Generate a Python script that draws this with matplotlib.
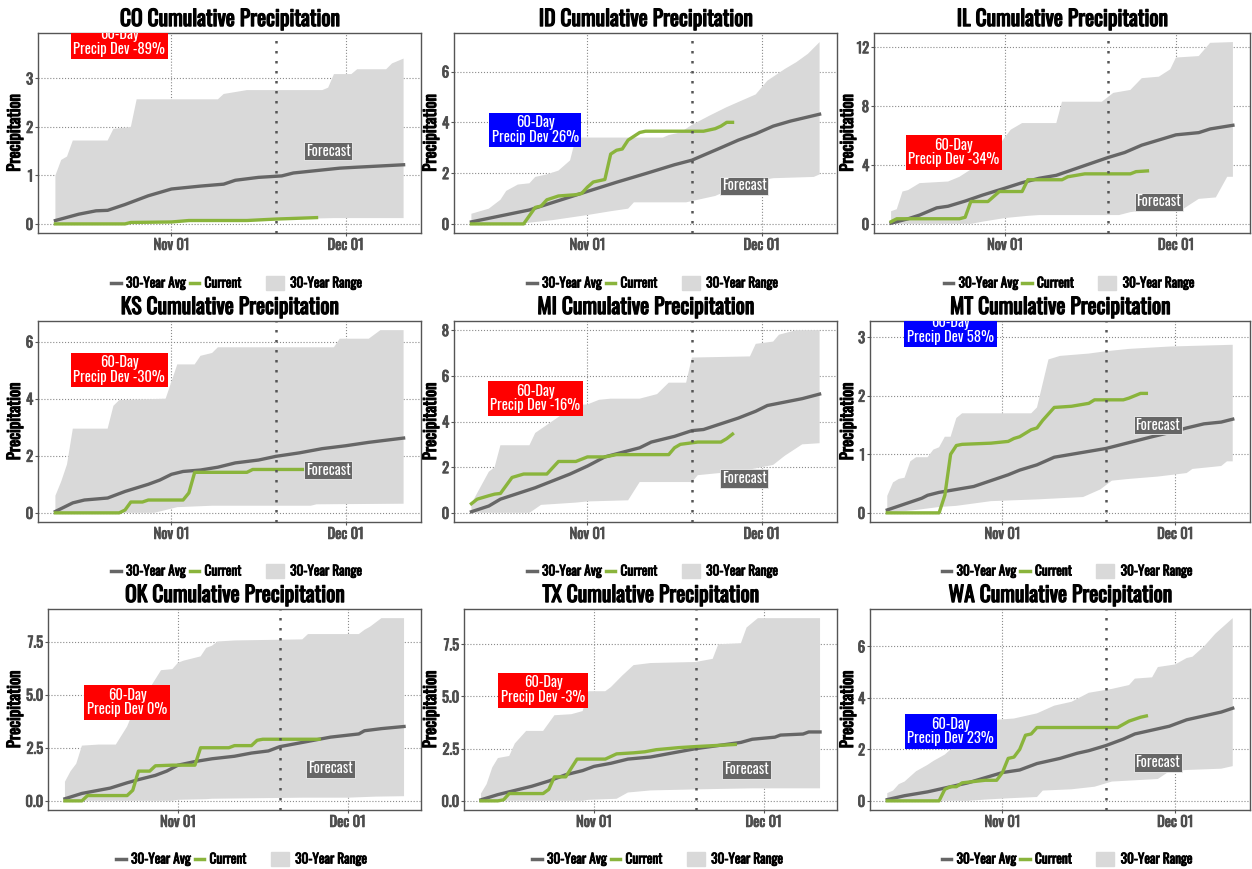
import numpy as np
import pandas as pd
import matplotlib
matplotlib.use("Agg")
import matplotlib.pyplot as plt
import matplotlib.dates as mdates
import matplotlib.patheffects as pe
from matplotlib import font_manager
from matplotlib.lines import Line2D
from matplotlib.patches import Patch

# pick a condensed face if one is around
avail = {f.name for f in font_manager.fontManager.ttflist}
family = "DejaVu Sans"
for cand in ["Oswald", "Roboto Condensed", "Open Sans Condensed", "Noto Sans Condensed",
             "Liberation Sans Narrow", "DejaVu Sans Condensed"]:
    if cand in avail:
        family = cand
        break
plt.rcParams["font.family"] = [family, "DejaVu Sans"]

states = ["CO", "ID", "IL", "KS", "MI", "MT", "OK", "TX", "WA"]
dev_pct = [-89, 26, -34, -30, -16, 58, 0, -3, 23]
dev_label_y = [3.75, 3.7, 4.87, 5.0, 5.0, 3.12, 4.62, 5.3, 2.69]
yticks = {
    "CO": [0, 1, 2, 3], "ID": [0, 2, 4, 6], "IL": [0, 4, 8, 12],
    "KS": [0, 2, 4, 6], "MI": [0, 2, 4, 6, 8], "MT": [0, 1, 2, 3],
    "OK": [0.0, 2.5, 5.0, 7.5], "TX": [0.0, 2.5, 5.0, 7.5], "WA": [0, 2, 4, 6],
}

start_date = "2023-10-12"   # day 0 of the 60-day window
forecast_day = 38
forecast_label_day = 47
forecast_label_y = 1.5

# (day, inches) pairs
avg = {
    "CO": [(0, 0.07), (4, 0.2), (7, 0.27), (9, 0.28), (12, 0.4), (16, 0.58), (20, 0.72), (25, 0.78), (29, 0.82),
           (31, 0.9), (35, 0.96), (39, 0.99), (41, 1.05), (45, 1.1), (49, 1.15), (52, 1.17), (60, 1.22)],
    "ID": [(0, 0.08), (10, 0.55), (20, 1.28), (25, 1.64), (30, 1.98), (35, 2.33), (38, 2.51), (43, 3.0),
           (46, 3.3), (49, 3.55), (52, 3.85), (55, 4.05), (60, 4.32)],
    "IL": [(0, 0.05), (3, 0.35), (5, 0.6), (8, 1.09), (10, 1.2), (13, 1.55), (16, 1.95), (20, 2.43), (23, 2.8),
           (26, 3.1), (29, 3.3), (32, 3.7), (35, 4.1), (38, 4.5), (41, 4.85), (44, 5.35), (47, 5.7), (50, 6.05),
           (54, 6.2), (56, 6.45), (60, 6.7)],
    "KS": [(0, 0.05), (3, 0.35), (5, 0.45), (9, 0.52), (12, 0.75), (16, 1.0), (18, 1.15), (20, 1.35), (22, 1.45),
           (25, 1.5), (28, 1.6), (31, 1.75), (35, 1.85), (38, 1.98), (42, 2.1), (46, 2.25), (50, 2.35), (54, 2.47),
           (60, 2.62)],
    "MI": [(0, 0.05), (3, 0.3), (5, 0.6), (8, 0.85), (11, 1.1), (14, 1.4), (17, 1.7), (20, 2.05), (23, 2.45),
           (26, 2.65), (29, 2.85), (31, 3.1), (35, 3.35), (38, 3.6), (40, 3.65), (43, 3.9), (46, 4.15), (49, 4.45),
           (51, 4.7), (54, 4.85), (57, 5.0), (60, 5.2)],
    "MT": [(0, 0.05), (3, 0.15), (6, 0.25), (7, 0.3), (9, 0.35), (12, 0.4), (15, 0.45), (18, 0.55), (21, 0.65),
           (23, 0.73), (26, 0.82), (29, 0.95), (32, 1.0), (35, 1.05), (38, 1.1), (40, 1.15), (44, 1.25), (46, 1.3),
           (49, 1.37), (52, 1.45), (55, 1.52), (58, 1.55), (60, 1.6)],
    "OK": [(0, 0.1), (3, 0.35), (6, 0.5), (8, 0.6), (11, 0.85), (13, 1.0), (16, 1.2), (18, 1.4), (20, 1.68),
           (23, 1.85), (26, 1.98), (30, 2.1), (33, 2.25), (36, 2.35), (38, 2.55), (42, 2.75), (45, 2.9), (47, 3.0),
           (52, 3.15), (53, 3.3), (56, 3.4), (60, 3.5)],
    "TX": [(0, 0.05), (3, 0.3), (6, 0.5), (9, 0.7), (12, 0.95), (15, 1.25), (18, 1.45), (20, 1.65), (23, 1.8),
           (26, 2.0), (30, 2.1), (34, 2.3), (38, 2.5), (42, 2.65), (46, 2.8), (48, 2.95), (52, 3.05), (53, 3.15),
           (57, 3.2), (58, 3.3), (60, 3.3)],
    "WA": [(0, 0.05), (3, 0.2), (7, 0.35), (10, 0.5), (14, 0.7), (17, 0.9), (20, 1.1), (23, 1.2), (26, 1.45),
           (30, 1.65), (33, 1.85), (35, 1.95), (38, 2.15), (41, 2.4), (43, 2.6), (46, 2.75), (49, 2.9), (52, 3.15),
           (55, 3.3), (58, 3.45), (60, 3.6)],
}

current = {
    "CO": [(0, 0), (12, 0), (13, 0.03), (20, 0.04), (23, 0.07), (33, 0.07), (38, 0.1), (45, 0.13)],
    "ID": [(0, 0), (9, 0), (11, 0.65), (12, 0.7), (13, 0.95), (15, 1.1), (18, 1.15), (19, 1.2), (20, 1.45),
           (21, 1.65), (23, 1.75), (24, 2.75), (25, 2.9), (26, 2.95), (27, 3.3), (29, 3.6), (30, 3.65), (40, 3.65),
           (42, 3.75), (43, 3.85), (44, 4.0), (45, 4.0)],
    "IL": [(0, 0.15), (1, 0.35), (12, 0.35), (13, 0.45), (14, 1.52), (17, 1.52), (19, 2.2), (23, 2.2), (24, 3.0),
           (30, 3.0), (31, 3.2), (34, 3.4), (42, 3.4), (43, 3.55), (45, 3.6)],
    "KS": [(0, 0), (11, 0), (12, 0.1), (13, 0.38), (15, 0.38), (16, 0.45), (22, 0.45), (23, 0.7), (24, 1.42),
           (33, 1.42), (34, 1.52), (45, 1.52)],
    "MI": [(0, 0.4), (1, 0.6), (3, 0.75), (4, 0.82), (5, 0.85), (7, 1.55), (9, 1.7), (13, 1.7), (15, 2.25),
           (18, 2.25), (20, 2.45), (23, 2.45), (25, 2.55), (34, 2.55), (35, 2.85), (36, 3.0), (39, 3.1), (43, 3.1),
           (44, 3.25), (45, 3.45)],
    "MT": [(0, 0), (9, 0), (10, 0.3), (11, 1.0), (12, 1.15), (13, 1.17), (18, 1.19), (21, 1.22), (22, 1.27),
           (23, 1.3), (25, 1.42), (26, 1.45), (27, 1.58), (29, 1.8), (32, 1.82), (35, 1.87), (36, 1.93), (41, 1.93),
           (42, 1.96), (44, 2.04), (45, 2.04)],
    "OK": [(0, 0), (3, 0), (4, 0.25), (11, 0.25), (12, 0.5), (13, 1.4), (15, 1.4), (16, 1.65), (19, 1.68),
           (23, 1.68), (24, 2.5), (29, 2.5), (30, 2.6), (33, 2.6), (34, 2.85), (35, 2.9), (45, 2.9)],
    "TX": [(0, 0), (3, 0), (4, 0.05), (5, 0.35), (11, 0.35), (12, 0.55), (13, 1.15), (15, 1.15), (17, 2.0),
           (22, 2.0), (24, 2.25), (27, 2.3), (29, 2.35), (31, 2.45), (33, 2.5), (35, 2.55), (38, 2.6), (45, 2.7)],
    "WA": [(0, 0), (9, 0), (10, 0.45), (11, 0.55), (12, 0.55), (13, 0.7), (15, 0.75), (17, 0.8), (19, 0.8),
           (20, 1.1), (21, 1.65), (22, 1.7), (23, 2.0), (24, 2.55), (25, 2.6), (26, 2.85), (40, 2.85), (42, 3.1),
           (44, 3.25), (45, 3.3)],
}

range_hi = {
    "CO": [(0, 1.0), (1, 1.32), (2, 1.39), (3, 1.72), (9, 1.72), (10, 1.96), (13, 2.0), (14, 2.57), (28, 2.57),
           (29, 2.68), (31, 2.72), (33, 2.76), (46, 2.76), (47, 2.81), (48, 3.09), (51, 3.09), (52, 3.19),
           (57, 3.19), (58, 3.31), (60, 3.41)],
    "ID": [(0, 0.4), (3, 0.6), (5, 0.95), (6, 1.3), (8, 1.55), (10, 1.6), (11, 1.85), (13, 1.95), (15, 2.1),
           (17, 2.5), (18, 3.4), (33, 3.4), (34, 3.5), (36, 3.6), (38, 3.9), (41, 4.26), (44, 4.6), (46, 4.8),
           (49, 5.1), (51, 5.64), (54, 6.1), (56, 6.37), (58, 6.7), (60, 7.16)],
    "IL": [(0, 0.86), (1, 1.0), (2, 2.2), (3, 2.3), (5, 2.77), (10, 2.88), (12, 3.2), (14, 3.7), (17, 4.35),
           (18, 4.8), (20, 5.9), (21, 6.4), (23, 6.85), (29, 6.85), (30, 8.3), (37, 8.3), (39, 8.9), (42, 9.1),
           (44, 9.9), (47, 10.0), (49, 10.5), (50, 11.3), (54, 11.4), (56, 12.3), (60, 12.35)],
    "KS": [(0, 0.6), (1, 1.1), (2, 1.7), (3, 2.95), (9, 2.95), (10, 3.75), (11, 3.95), (19, 4.0), (21, 5.2),
           (24, 5.2), (25, 5.5), (27, 5.6), (28, 5.8), (48, 5.8), (49, 6.1), (54, 6.1), (56, 6.4), (60, 6.4)],
    "MI": [(0, 0.4), (3, 1.8), (4, 2.0), (5, 2.96), (10, 2.96), (11, 3.5), (18, 4.72), (20, 4.75), (22, 4.95),
           (24, 5.0), (29, 5.0), (32, 5.2), (34, 5.7), (37, 5.7), (38, 6.8), (48, 6.85), (49, 7.4), (52, 7.5),
           (53, 7.8), (56, 8.0), (60, 8.0)],
    "MT": [(0, 0.29), (1, 0.52), (2, 0.58), (3, 0.6), (4, 0.88), (5, 0.95), (7, 0.95), (8, 1.08), (9, 1.12),
           (10, 1.3), (11, 1.3), (12, 1.62), (13, 1.7), (25, 1.7), (26, 1.8), (28, 2.62), (30, 2.68), (35, 2.72),
           (38, 2.76), (42, 2.8), (49, 2.84), (60, 2.87)],
    "OK": [(0, 0.9), (1, 1.4), (2, 1.75), (3, 2.6), (6, 2.65), (9, 2.65), (11, 3.5), (13, 4.8), (15, 5.3),
           (17, 6.15), (19, 6.2), (20, 6.5), (21, 6.6), (24, 6.8), (25, 7.2), (26, 7.3), (27, 7.5), (30, 7.55),
           (42, 7.6), (43, 7.85), (52, 7.85), (53, 8.05), (54, 8.2), (56, 8.6), (60, 8.6)],
    "TX": [(0, 0.35), (1, 0.8), (2, 1.6), (3, 2.05), (5, 2.15), (6, 2.75), (8, 3.35), (11, 3.35), (13, 4.1),
           (16, 4.15), (18, 4.3), (19, 5.25), (22, 5.25), (23, 5.45), (25, 6.0), (27, 6.5), (30, 6.6), (38, 6.65),
           (41, 6.8), (42, 7.5), (46, 7.55), (47, 8.3), (49, 8.75), (60, 8.75)],
    "WA": [(0, 0.3), (1, 0.4), (2, 0.65), (3, 0.75), (4, 0.95), (5, 1.15), (7, 1.4), (8, 1.55), (10, 1.8),
           (11, 2.0), (13, 2.15), (15, 2.5), (17, 2.9), (19, 3.15), (22, 3.2), (24, 3.3), (26, 3.4), (29, 3.7),
           (32, 3.85), (35, 4.2), (39, 4.35), (42, 4.5), (43, 4.75), (46, 4.8), (47, 5.2), (50, 5.3), (52, 5.55),
           (53, 5.6), (55, 6.0), (57, 6.5), (60, 7.1)],
}

range_lo = {
    "CO": [(0, 0), (20, 0.03), (30, 0.06), (40, 0.1), (48, 0.12), (60, 0.12)],
    "ID": [(0, 0), (8, 0), (14, 0.15), (20, 0.35), (24, 0.5), (27, 0.6), (28, 0.85), (37, 0.85), (38, 0.9),
           (40, 1.0), (42, 1.1), (47, 1.6), (52, 1.8), (59, 1.85), (60, 1.95)],
    "IL": [(0, 0), (14, 0), (16, 0.15), (20, 0.4), (24, 0.55), (26, 0.6), (40, 0.6), (42, 0.8), (44, 0.9),
           (51, 0.95), (54, 1.7), (57, 1.8), (59, 3.2), (60, 3.2)],
    "KS": [(0, 0), (17, 0), (18, 0.05), (21, 0.2), (27, 0.25), (44, 0.25), (45, 0.3), (60, 0.32)],
    "MI": [(0, 0), (10, 0), (12, 0.35), (18, 0.45), (20, 0.5), (27, 0.55), (29, 1.35), (38, 1.35), (39, 1.65),
           (43, 1.75), (48, 1.9), (52, 2.1), (54, 2.5), (57, 3.0), (60, 3.05)],
    "MT": [(0, 0), (5, 0.05), (9, 0.1), (12, 0.12), (18, 0.2), (26, 0.23), (34, 0.27), (37, 0.4), (39, 0.55),
           (42, 0.58), (47, 0.62), (52, 0.68), (53, 0.75), (58, 0.8), (59, 0.88), (60, 0.88)],
    "OK": [(0, 0), (19, 0), (20, 0.05), (25, 0.08), (26, 0.1), (42, 0.15), (50, 0.15), (55, 0.2), (60, 0.22)],
    "TX": [(0, 0), (18, 0), (19, 0.05), (24, 0.1), (26, 0.4), (30, 0.5), (38, 0.55), (48, 0.6), (60, 0.6)],
    "WA": [(0, 0), (14, 0), (17, 0.05), (21, 0.1), (26, 0.15), (27, 0.4), (32, 0.45), (36, 0.55), (39, 0.75),
           (47, 0.85), (49, 1.15), (52, 1.2), (58, 1.25), (60, 1.35)],
}

AVG_COL = "#666666"
CUR_COL = "#8AB43C"
RANGE_COL = "#D9D9D9"

W, H = 1252, 869
fig = plt.figure(figsize=(W / 100, H / 100), dpi=100)

# panel boxes in pixels (ggplot panels shift with the tick label width)
lefts = [38, 454, 874, 38, 454, 870, 48, 464, 870]
rights = [421, 837, 1250]
tops = [33, 321, 609]
bottoms = [233, 522, 810]
ylabel_x = [23, 439, 856]      # right edge of the rotated y label
legend_y = [283, 571, 859]

t0 = mdates.date2num(pd.Timestamp(start_date))

def xy(pairs):
    a = np.array(pairs, dtype=float)
    return t0 + a[:, 0], a[:, 1]

def heavy(txt, color, w=0.7):
    # fake a bold face with a thin stroke of the same colour
    txt.set_path_effects([pe.withStroke(linewidth=w, foreground=color)])

for i, st in enumerate(states):
    r, c = divmod(i, 3)
    l, rt, tp, bt = lefts[i], rights[c], tops[r], bottoms[r]
    ax = fig.add_axes([l / W, 1 - bt / H, (rt - l) / W, (bt - tp) / H])

    hx, hy = xy(range_hi[st])
    lx, ly = xy(range_lo[st])
    ax.fill(np.concatenate([hx, lx[::-1]]), np.concatenate([hy, ly[::-1]]),
            color=RANGE_COL, lw=0, zorder=1)
    ax.plot(*xy(avg[st]), color=AVG_COL, lw=2.4, zorder=3, solid_joinstyle="round")
    ax.plot(*xy(current[st]), color=CUR_COL, lw=2.4, zorder=4, solid_joinstyle="round")
    ax.axvline(t0 + forecast_day, color="#555555", lw=1.8, ls=(0, (1, 3)), zorder=5)

    ax.text(t0 + forecast_label_day, forecast_label_y, "Forecast", color="white", fontsize=10.5,
            ha="center", va="center", zorder=6,
            bbox=dict(boxstyle="square,pad=0.12", fc="#666666", ec="#eeeeee", lw=0.6))
    dev = dev_pct[i]
    ax.text(t0 + 11, dev_label_y[i], "60-Day\nPrecip Dev %d%%" % dev, color="white", fontsize=10.5,
            ha="center", va="center", zorder=6, linespacing=0.95, clip_on=True,
            bbox=dict(boxstyle="square,pad=0.18", fc="#0000FF" if dev > 0 else "#FF0000", ec="none"))

    top = max(hy.max(), dev_label_y[i])
    ax.set_ylim(-0.05 * top, 1.05 * top)
    ax.set_xlim(t0 - 3, t0 + 63)
    ax.set_yticks(yticks[st])
    if st in ("OK", "TX"):
        ax.set_yticklabels(["%.1f" % v for v in yticks[st]])
    ax.set_xticks([mdates.date2num(pd.Timestamp("2023-11-01")), mdates.date2num(pd.Timestamp("2023-12-01"))])
    ax.xaxis.set_major_formatter(mdates.DateFormatter("%b %d"))

    ax.grid(True, color="#8a8a8a", ls=":", lw=0.8, zorder=0)
    ax.set_axisbelow(True)
    for sp in ax.spines.values():
        sp.set_color("#555555")
        sp.set_linewidth(1.0)
    ax.tick_params(colors="#555555", labelcolor="#4D4D4D", length=2, width=0.8, labelsize=10.5, pad=1.5)
    fig.canvas.draw()
    for lab in ax.get_xticklabels() + ax.get_yticklabels():
        heavy(lab, "#4D4D4D", 0.6)
    yl = ax.set_ylabel("Precipitation", fontsize=12)
    ax.yaxis.set_label_coords((ylabel_x[c] - l) / (rt - l), 0.5)
    heavy(yl, "black", 0.8)
    tt = ax.set_title("%s Cumulative Precipitation" % st, fontsize=15.5, pad=5)
    heavy(tt, "black", 0.9)

    cx = (l + rt) / 2 / W
    ly_ = 1 - legend_y[r] / H
    prop = dict(family=[family, "DejaVu Sans"], size=9.6)
    leg1 = fig.legend([Line2D([], [], color=AVG_COL, lw=2.5), Line2D([], [], color=CUR_COL, lw=2.5)],
                      ["30-Year Avg", "Current"], loc="center right", bbox_to_anchor=(cx + 12 / W, ly_),
                      ncol=2, frameon=False, borderpad=0, borderaxespad=0, handlelength=0.7,
                      handletextpad=0.4, columnspacing=0.3, prop=prop)
    leg2 = fig.legend([Patch(color=RANGE_COL)], ["30-Year Range"], loc="center left",
                      bbox_to_anchor=(cx + 36 / W, ly_), frameon=False, borderpad=0, borderaxespad=0,
                      handlelength=1.35, handleheight=1.35, handletextpad=0.5, prop=prop)
    for leg in (leg1, leg2):
        for t in leg.get_texts():
            heavy(t, "black", 0.6)

fig.savefig("out.png", dpi=100)
